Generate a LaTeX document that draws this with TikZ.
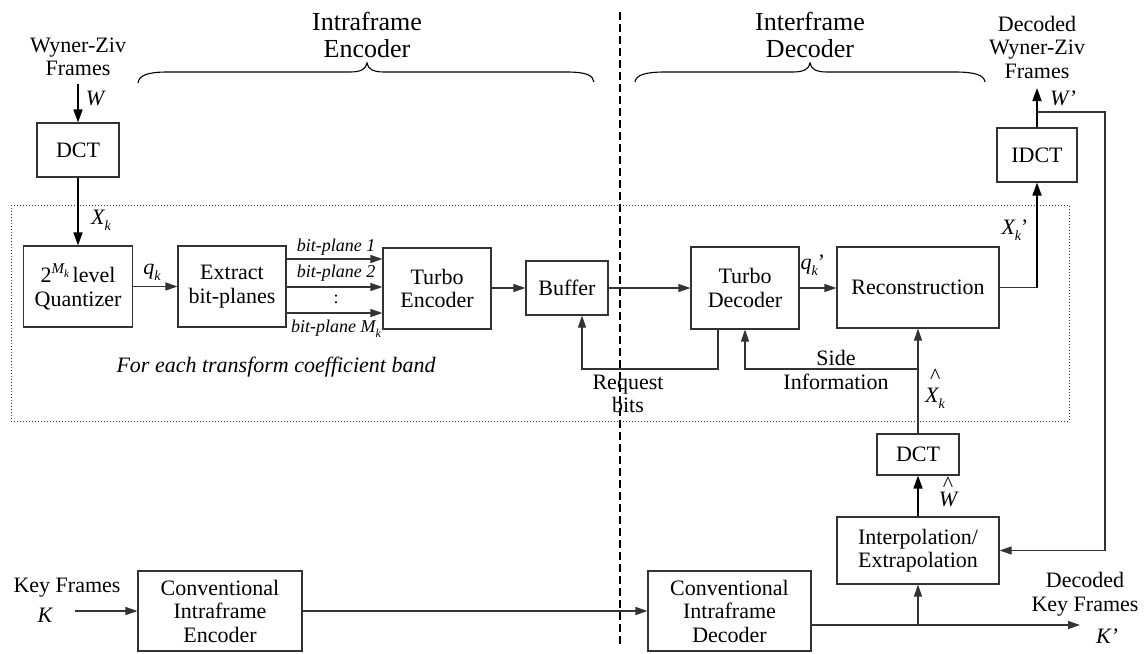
\documentclass[tikz,border=0pt]{standalone}
\usepackage{fontspec}
\setmainfont{Liberation Serif}
\usetikzlibrary{arrows.meta,calc}
\newcommand{\ksub}[1]{\raisebox{-0.28em}{\fontsize{14}{14}\selectfont\itshape #1}}
\begin{document}
\begin{tikzpicture}[x=1pt,y=-1pt,
 box/.style={draw=black!80,line width=1.1pt,inner sep=0pt,align=center,font=\fontsize{22}{23.5}\selectfont},
 lbl/.style={inner sep=0pt,align=center,font=\fontsize{22}{23.5}\selectfont},
 ttl/.style={inner sep=0pt,align=center,font=\fontsize{26}{27}\selectfont},
 arr/.style={draw=black!80,line width=1.1pt,-{Triangle[length=12pt,width=8pt]}},
 tarr/.style={draw=black,line width=1.7pt,-{Triangle[length=13pt,width=9pt]}},
 ln/.style={draw=black!80,line width=1.1pt},
 bp/.style={inner sep=0pt,font=\fontsize{18}{18}\selectfont\itshape},
 brace/.style={draw=black,line width=1.1pt}
]
\useasboundingbox (0,0) rectangle (1145,653);

% dotted band region
\draw[black!80,line width=1pt,dash pattern=on 1.2pt off 1.8pt] (11,205) rectangle (1069,421);
% dashed separator
\draw[black,line width=1.7pt,dash pattern=on 8pt off 4pt] (620,12) -- (620,647);

% boxes
\node[box,minimum width=82pt,minimum height=54pt] (dcta) at (78,150) {DCT};
\node[box,minimum width=109pt,minimum height=81pt] (quant) at (78,286.5)
  {2\raisebox{0.42em}{\fontsize{15}{15}\selectfont\itshape M\raisebox{-0.3em}{\fontsize{11}{11}\selectfont k}}\,level\\Quantizer};
\node[box,minimum width=108pt,minimum height=81pt] (extract) at (232,286.5) {Extract\\bit-planes};
\node[box,minimum width=108pt,minimum height=81pt] (tenc) at (437,288.5) {Turbo\\Encoder};
\node[box,minimum width=82pt,minimum height=54pt] (buffer) at (567,288) {Buffer};
\node[box,minimum width=108pt,minimum height=82pt] (tdec) at (745,288) {Turbo\\Decoder};
\node[box,minimum width=162pt,minimum height=81pt] (recon) at (918,287.5) {Reconstruction};
\node[box,minimum width=80pt,minimum height=54pt] (idct) at (1037,155) {IDCT};
\node[box,minimum width=82pt,minimum height=41pt] (dctb) at (918,454.5) {DCT};
\node[box,minimum width=162pt,minimum height=67pt] (interp) at (918,550.5) {Interpolation/\\Extrapolation};
\node[box,minimum width=164pt,minimum height=80pt] (cenc) at (220,611) {Conventional\\Intraframe\\Encoder};
\node[box,minimum width=163pt,minimum height=80pt] (cdec) at (729.5,611) {Conventional\\Intraframe\\Decoder};

% titles and braces
\node[ttl] (enctitle) at (367,35) {Intraframe\\Encoder};
\node[ttl] (dectitle) at (810,35) {Interframe\\Decoder};
\draw[brace] (138,83) .. controls (139,75) and (148,72) .. (168,72) -- (350,72)
  .. controls (361,72) and (366,69) .. (367,63) .. controls (368,69) and (373,72) .. (384,72)
  -- (566,72) .. controls (586,72) and (593,75) .. (594,82);
\draw[brace] (635,82) .. controls (636,75) and (645,72) .. (665,72) -- (793,72)
  .. controls (804,72) and (809,69) .. (810,63) .. controls (811,69) and (816,72) .. (827,72)
  -- (955,72) .. controls (975,72) and (984,75) .. (985,82);

% input Wyner-Ziv
\node[lbl] (wzin) at (78,57) {Wyner-Ziv\\Frames};
\coordinate (win) at (78,84);
\draw[tarr] (win) -- (dcta.north);
\node[lbl,font=\fontsize{22}{23.5}\selectfont\itshape] (wlab) at (95,98) {W};
\draw[tarr] (dcta.south) -- (quant.north);
\node[lbl] (xklab) at (101,220) {{\itshape X}\ksub{k}};

% quantizer -> extract
\draw[arr] (quant.east) -- (extract.west);
\node[lbl] (qklab) at (152,272) {{\itshape q}\ksub{k}};

% bit-planes
\coordinate (bp1) at (0,259);
\coordinate (bp2) at (0,287);
\coordinate (bp3) at (0,313);
\draw[arr] (extract.east |- bp1) -- (tenc.west |- bp1);
\draw[arr] (extract.east |- bp2) -- (tenc.west |- bp2);
\draw[arr] (extract.east |- bp3) -- (tenc.west |- bp3);
\node[bp] (bpl1) at (336,247) {bit-plane 1};
\node[bp] (bpl2) at (336,273) {bit-plane 2};
\node[bp,font=\fontsize{18}{18}\selectfont] (bpl3) at (336,299) {:};
\node[bp] (bpl4) at (336,329) {bit-plane {\itshape M}\raisebox{-0.25em}{\fontsize{12}{12}\selectfont k}};

% main chain
\draw[arr] (tenc.east |- buffer.west) -- (buffer.west);
\draw[arr] (buffer.east) -- (tdec.west |- buffer.east);
\draw[arr] (tdec.east) -- (recon.west |- tdec.east);
\node[lbl] (qkplab) at (813,265) {{\itshape q}\ksub{k}’};

% reconstruction -> IDCT
\coordinate (rc) at (1037,287.5);
\draw[ln] (recon.east) -- (rc);
\draw[tarr] (rc) -- (idct.south);
\node[lbl] (xkplab) at (1015,230) {{\itshape X}\ksub{k}’};
\coordinate (wout) at (1037,88);
\draw[tarr] (idct.north) -- (wout);
\node[lbl,font=\fontsize{22}{23.5}\selectfont\itshape] (wplab) at (1063,98) {W’};
\node[lbl] (wzout) at (1037,47) {Decoded\\Wyner-Ziv\\Frames};

% feedback to interpolation
\coordinate (fb1) at (1037,112);
\coordinate (fb2) at (1105,112);
\draw[arr] (fb1) -- (fb2) |- (interp.east);

% request bits
\coordinate (rq1) at (718,369);
\coordinate (rq2) at (582,369);
\draw[arr] (tdec.south -| rq1) -- (rq1) -- (rq2) -- (buffer.south -| rq2);
\node[lbl] (rqlab) at (628,394) {Request\\bits};

% side information
\coordinate (si1) at (918,369);
\coordinate (si2) at (745,369);
\draw[arr] (dctb.north) -- (recon.south);
\draw[arr] (si1) -- (si2) -- (tdec.south);
\node[lbl] (silab) at (836,370) {Side\\Information};
\node[lbl,align=left] (xhat) at (935,389) {\hspace*{5pt}\textasciicircum\\[-5pt]{\itshape X}\ksub{k}};

% interpolation -> DCT
\draw[tarr] (interp.north) -- (dctb.south);
\node[lbl,align=left] (what) at (948,492) {\hspace*{4pt}\textasciicircum\\[-8pt]{\itshape W}};

% for each band
\node[lbl,font=\fontsize{22}{23.5}\selectfont\itshape] (band) at (276,367) {For each transform coefficient band};

% key frames
\node[lbl] (kflab) at (67,588) {Key Frames};
\node[lbl,font=\fontsize{22}{23.5}\selectfont\itshape] (klab) at (45,615) {K};
\coordinate (kin) at (75,611);
\draw[arr] (kin) -- (cenc.west);
\draw[arr] (cenc.east) -- (cdec.west);
\coordinate (kout) at (1080,625);
\coordinate (kbr) at (918,625);
\draw[arr] (cdec.east |- kout) -- (kout);
\draw[arr] (kbr) -- (interp.south);
\node[lbl] (kfout) at (1085,594) {Decoded\\Key Frames};
\node[lbl,font=\fontsize{22}{23.5}\selectfont\itshape] (kplab) at (1107,636) {K’};
\end{tikzpicture}
\end{document}
